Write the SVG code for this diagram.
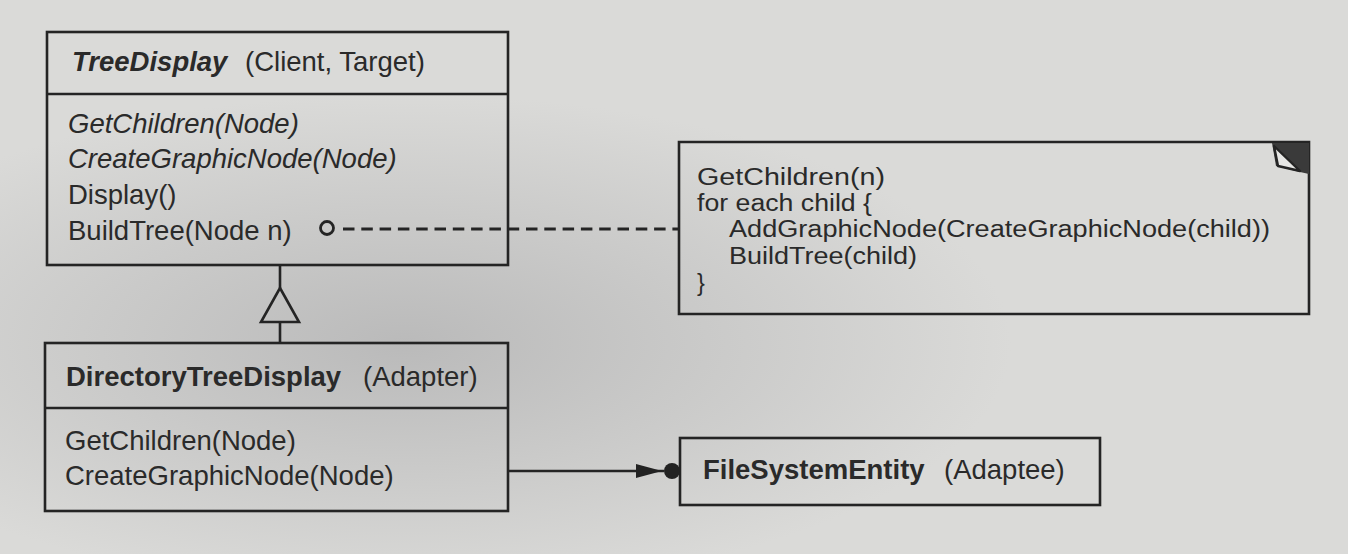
<svg xmlns="http://www.w3.org/2000/svg" width="1348" height="554" viewBox="0 0 1348 554">
  <defs>
    <radialGradient id="shade" cx="0.3" cy="0.62" r="0.45">
      <stop offset="0" stop-color="#bababa"/>
      <stop offset="1" stop-color="#dadad8"/>
    </radialGradient>
    <marker id="filled" viewBox="0 0 28 16" refX="28" refY="8" markerWidth="28" markerHeight="16" markerUnits="userSpaceOnUse" orient="auto">
      <path d="M0,1 L26,8 L0,15 Z" fill="#222"/>
    </marker>
  </defs>
  <style>
    .box { fill: none; stroke: #242424; stroke-width: 2.6; }
    .line { fill: none; stroke: #242424; stroke-width: 2.6; }
    text { font-family: "Liberation Sans", Arial, sans-serif; font-size: 27.5px; fill: #2a2a2a; }
    .note text { font-size: 23.5px; }
    .b { font-weight: bold; }
    .i { font-style: italic; }
  </style>
  <rect x="0" y="0" width="1348" height="554" fill="url(#shade)"/>

  <g id="TreeDisplay">
    <rect class="box" x="47" y="32" width="461" height="233"/>
    <line class="line" x1="47" y1="94" x2="508" y2="94"/>
    <text x="72" y="71" class="b i">TreeDisplay</text>
    <text x="245" y="71">(Client, Target)</text>
    <text x="68" y="133" class="i">GetChildren(Node)</text>
    <text x="68" y="168" class="i">CreateGraphicNode(Node)</text>
    <text x="68" y="204">Display()</text>
    <text x="68" y="240">BuildTree(Node n)</text>
  </g>

  <g id="DirectoryTreeDisplay">
    <rect class="box" x="45" y="343" width="463" height="168"/>
    <line class="line" x1="45" y1="408" x2="508" y2="408"/>
    <text x="66" y="386" class="b">DirectoryTreeDisplay</text>
    <text x="363" y="386">(Adapter)</text>
    <text x="65" y="450">GetChildren(Node)</text>
    <text x="65" y="485">CreateGraphicNode(Node)</text>
  </g>

  <g id="Note" class="note">
    <path class="box" d="M679,142 L1309,142 L1309,314 L679,314 Z"/>
    <path d="M1272,143 L1309,143 L1309,174 L1300,172 L1276,166 Z" fill="#3a3a3a"/>
    <path d="M1274,146 L1278,166 L1300,171 Z" fill="#e6e6e4" stroke="#242424" stroke-width="2.4" stroke-linejoin="round"/>
    <text x="697" y="185" textLength="188" lengthAdjust="spacingAndGlyphs">GetChildren(n)</text>
    <text x="697" y="211" textLength="175" lengthAdjust="spacingAndGlyphs">for each child {</text>
    <text x="729" y="237" textLength="541" lengthAdjust="spacingAndGlyphs">AddGraphicNode(CreateGraphicNode(child))</text>
    <text x="729" y="264" textLength="188" lengthAdjust="spacingAndGlyphs">BuildTree(child)</text>
    <text x="697" y="291">}</text>
  </g>

  <g id="FileSystemEntity">
    <rect class="box" x="680" y="438" width="420" height="67"/>
    <text x="703" y="479" class="b">FileSystemEntity</text>
    <text x="944" y="479">(Adaptee)</text>
  </g>

  <g id="connectors">
    <!-- inheritance -->
    <line class="line" x1="280" y1="265" x2="280" y2="288"/>
    <path class="line" d="M280,288 L299,322 L261,322 Z"/>
    <line class="line" x1="280" y1="322" x2="280" y2="343"/>
    <!-- note link -->
    <circle cx="327" cy="228" r="6.5" fill="none" stroke="#242424" stroke-width="2.8"/>
    <line x1="343" y1="229" x2="679" y2="229" stroke="#242424" stroke-width="3" stroke-dasharray="11.5 6.8"/>
    <!-- association to adaptee -->
    <line class="line" x1="508" y1="471" x2="664" y2="471" marker-end="url(#filled)"/>
    <circle cx="672" cy="471" r="8" fill="#222"/>
  </g>
</svg>
